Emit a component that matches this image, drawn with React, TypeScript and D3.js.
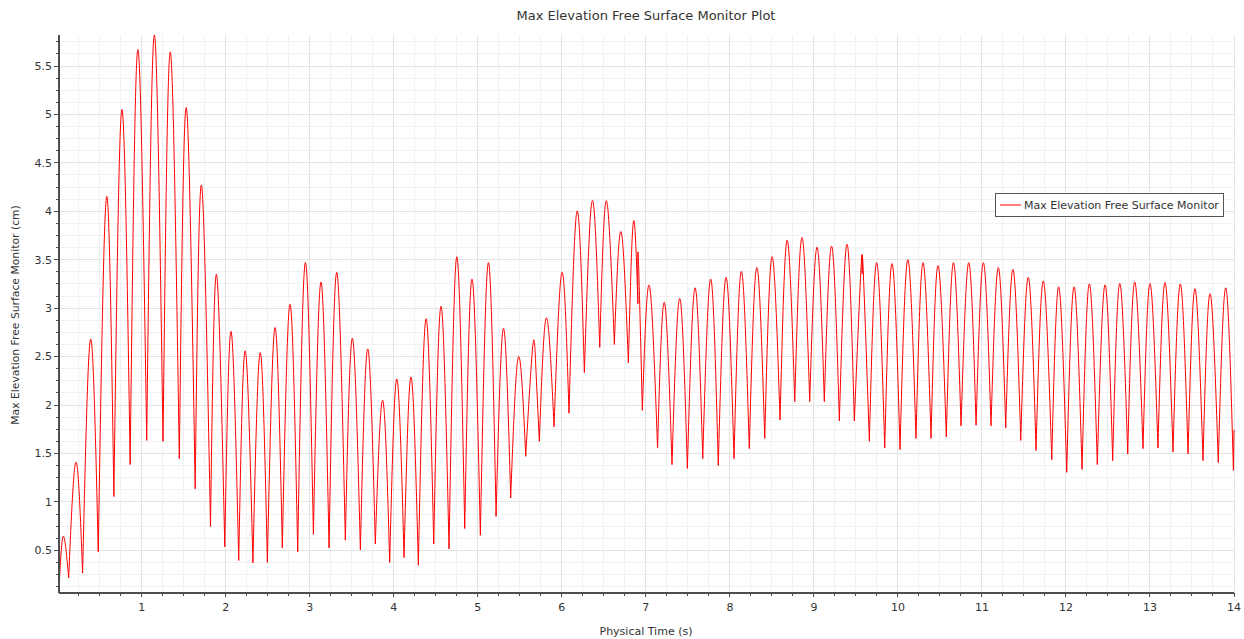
import React from "react";
import * as d3 from "d3";

// values (time in s, elevation in cm)
const monitorTime = [
  0.015, 0.065, 0.13, 0.217, 0.296, 0.391, 0.482, 0.581, 0.668, 0.763,
  0.862, 0.953, 1.059, 1.15, 1.253, 1.34, 1.447, 1.53, 1.636, 1.711,
  1.818, 1.889, 1.988, 2.063, 2.154, 2.231, 2.323, 2.41, 2.495, 2.586,
  2.673, 2.765, 2.856, 2.947, 3.043, 3.134, 3.229, 3.32, 3.423, 3.507,
  3.602, 3.689, 3.78, 3.868, 3.951, 4.035, 4.122, 4.205, 4.292, 4.383,
  4.475, 4.562, 4.657, 4.749, 4.844, 4.931, 5.03, 5.125, 5.217, 5.304,
  5.391, 5.482, 5.57, 5.653, 5.689, 5.732, 5.815, 5.907, 6.002, 6.085,
  6.18, 6.268, 6.362, 6.451, 6.529, 6.625, 6.704, 6.792, 6.851, 6.905,
  6.91, 6.958, 7.041, 7.139, 7.22, 7.311, 7.403, 7.494, 7.585, 7.677,
  7.772, 7.862, 7.954, 8.049, 8.136, 8.231, 8.32, 8.415, 8.501, 8.597,
  8.68, 8.772, 8.858, 8.95, 9.037, 9.124, 9.212, 9.303, 9.394, 9.481,
  9.561, 9.575, 9.587, 9.66, 9.747, 9.843, 9.93, 10.025, 10.117, 10.215,
  10.299, 10.394, 10.477, 10.576, 10.66, 10.751, 10.843, 10.93, 11.017, 11.108,
  11.195, 11.283, 11.37, 11.462, 11.552, 11.644, 11.731, 11.831, 11.914, 12.009,
  12.096, 12.191, 12.278, 12.373, 12.465, 12.556, 12.64, 12.735, 12.818, 12.917,
  13.0, 13.095, 13.179, 13.274, 13.361, 13.453, 13.536, 13.631, 13.715, 13.813,
  13.902, 13.993, 14.0,
];

const monitorElevation = [
  0.1, 0.645, 0.22, 1.41, 0.27, 2.68, 0.49, 4.15, 1.06, 5.05,
  1.39, 5.67, 1.64, 5.82, 1.63, 5.645, 1.45, 5.07, 1.14, 4.27,
  0.75, 3.35, 0.54, 2.76, 0.4, 2.56, 0.375, 2.54, 0.38, 2.8,
  0.53, 3.04, 0.49, 3.47, 0.67, 3.27, 0.53, 3.37, 0.61, 2.69,
  0.51, 2.58, 0.57, 2.05, 0.38, 2.27, 0.43, 2.29, 0.35, 2.89,
  0.57, 3.02, 0.52, 3.53, 0.73, 3.3, 0.66, 3.47, 0.855, 2.79,
  1.045, 2.495, 1.475, 2.6, 2.415, 1.63, 2.9, 1.78, 3.37, 1.92,
  4.0, 2.34, 4.11, 2.6, 4.11, 2.63, 3.79, 2.44, 3.89, 3.05,
  3.53, 1.95, 3.235, 1.56, 3.06, 1.39, 3.1, 1.35, 3.21, 1.45,
  3.3, 1.38, 3.32, 1.45, 3.38, 1.555, 3.42, 1.66, 3.53, 1.85,
  3.7, 2.04, 3.73, 2.04, 3.63, 2.04, 3.64, 1.84, 3.66, 1.84,
  3.42, 3.36, 3.39, 1.63, 3.47, 1.56, 3.46, 1.545, 3.5, 1.66,
  3.47, 1.66, 3.44, 1.675, 3.47, 1.79, 3.47, 1.795, 3.47, 1.79,
  3.42, 1.77, 3.4, 1.64, 3.32, 1.535, 3.28, 1.44, 3.22, 1.31,
  3.22, 1.34, 3.25, 1.39, 3.24, 1.43, 3.255, 1.5, 3.27, 1.555,
  3.255, 1.56, 3.265, 1.52, 3.25, 1.5, 3.2, 1.43, 3.15, 1.41,
  3.21, 1.33, 1.74,
];

const xTickValues = [1, 2, 3, 4, 5, 6, 7, 8, 9, 10, 11, 12, 13, 14];
const yTickValues = [0.5, 1, 1.5, 2, 2.5, 3, 3.5, 4, 4.5, 5, 5.5];

const chartTitle = "Max Elevation Free Surface Monitor Plot";
const seriesName = "Max Elevation Free Surface Monitor";
const xLabel = "Physical Time (s)";
const yLabel = "Max Elevation Free Surface Monitor (cm)";

const width = 1244;
const height = 639;
const margin = { top: 35, right: 10, bottom: 46, left: 59 };
const font = "'DejaVu Sans', sans-serif";

export default function App() {
  const x = d3
    .scaleLinear()
    .domain([0.015, 14])
    .range([margin.left, width - margin.right]);
  const y = d3
    .scaleLinear()
    .domain([0.06, 5.82])
    .range([height - margin.bottom, margin.top]);

  const [x0, x1] = x.range();
  const [y0, y1] = y.range();

  // minor divisions: quarter seconds, quarters of 0.5 cm
  const xMinor = d3.range(0.25, 14, 0.25).filter((d) => d % 1 !== 0);
  const yMinor = d3
    .range(0.125, 5.82, 0.125)
    .filter((d) => Math.abs(d * 2 - Math.round(d * 2)) > 1e-6);

  // the signal has sharp troughs and round crests, so draw it crest by crest
  const points = monitorTime.map((t, i) => [t, monitorElevation[i]] as [number, number]);
  const arches: [number, number][][] = [];
  let start = 0;
  for (let i = 1; i < points.length; i++) {
    const last = i === points.length - 1;
    const isMin =
      last || (points[i][1] < points[i - 1][1] && points[i][1] < points[i + 1][1]);
    if (isMin) {
      arches.push(points.slice(start, i + 1));
      start = i;
    }
  }
  const line = d3
    .line<[number, number]>()
    .x((d) => x(d[0]))
    .y((d) => y(d[1]))
    .curve(d3.curveNatural);
  const seriesPath = arches.map((a) => line(a)).join("");

  const axisColor = "#4d4d4d";
  const textColor = "#333";

  return (
    <svg
      width={width}
      height={height}
      style={{ position: "absolute", left: 0, top: 0, display: "block" }}
      fontFamily={font}
    >
      <rect width={width} height={height} fill="#fff" />

      {/* grid */}
      <g shapeRendering="crispEdges">
        {xMinor.map((d) => (
          <line key={"xm" + d} x1={x(d)} x2={x(d)} y1={y1} y2={y0} stroke="#f1f1f1" />
        ))}
        {yMinor.map((d) => (
          <line key={"ym" + d} x1={x0} x2={x1} y1={y(d)} y2={y(d)} stroke="#f1f1f1" />
        ))}
        {xTickValues.map((d) => (
          <line key={"xg" + d} x1={x(d)} x2={x(d)} y1={y1} y2={y0} stroke="#e3e3e3" />
        ))}
        {yTickValues.map((d) => (
          <line key={"yg" + d} x1={x0} x2={x1} y1={y(d)} y2={y(d)} stroke="#e3e3e3" />
        ))}
      </g>

      {/* series */}
      <path
        d={seriesPath}
        fill="none"
        stroke="#ff0000"
        strokeWidth={1}
        strokeLinejoin="round"
        strokeLinecap="round"
      />

      {/* axes */}
      <g shapeRendering="crispEdges" stroke={axisColor}>
        <line x1={x0} x2={x0} y1={y1} y2={y0} strokeWidth={1.2} />
        <line x1={x0} x2={x1} y1={y0} y2={y0} strokeWidth={1.2} />
        {yMinor.map((d) => (
          <line key={"yt" + d} x1={x0 - 3} x2={x0} y1={y(d)} y2={y(d)} />
        ))}
        {yTickValues.map((d) => (
          <line key={"yT" + d} x1={x0 - 5} x2={x0} y1={y(d)} y2={y(d)} />
        ))}
        {xMinor.map((d) => (
          <line key={"xt" + d} x1={x(d)} x2={x(d)} y1={y0} y2={y0 + 3} />
        ))}
        {xTickValues.map((d) => (
          <line key={"xT" + d} x1={x(d)} x2={x(d)} y1={y0} y2={y0 + 4} />
        ))}
      </g>

      <g fill={textColor} fontSize={11}>
        {yTickValues.map((d) => (
          <text key={"yl" + d} x={x0 - 7} y={y(d)} dy="0.35em" textAnchor="end">
            {d}
          </text>
        ))}
        {xTickValues.map((d) => (
          <text key={"xl" + d} x={x(d)} y={y0 + 18} textAnchor="middle">
            {d}
          </text>
        ))}
      </g>

      <text x={646} y={20} textAnchor="middle" fontSize={13} fill={textColor}>
        {chartTitle}
      </text>
      <text x={646} y={635} textAnchor="middle" fontSize={11} fill={textColor}>
        {xLabel}
      </text>
      <text
        transform="translate(19,315) rotate(-90)"
        textAnchor="middle"
        fontSize={10.8}
        fill={textColor}
      >
        {yLabel}
      </text>

      {/* legend */}
      <g>
        <rect x={995.5} y={193.5} width={228} height={23} fill="#fff" stroke="#555" />
        <line x1={1000} x2={1021} y1={205} y2={205} stroke="#ff0000" />
        <text x={1024} y={209} fontSize={11} fill={textColor}>
          {seriesName}
        </text>
      </g>
    </svg>
  );
}
